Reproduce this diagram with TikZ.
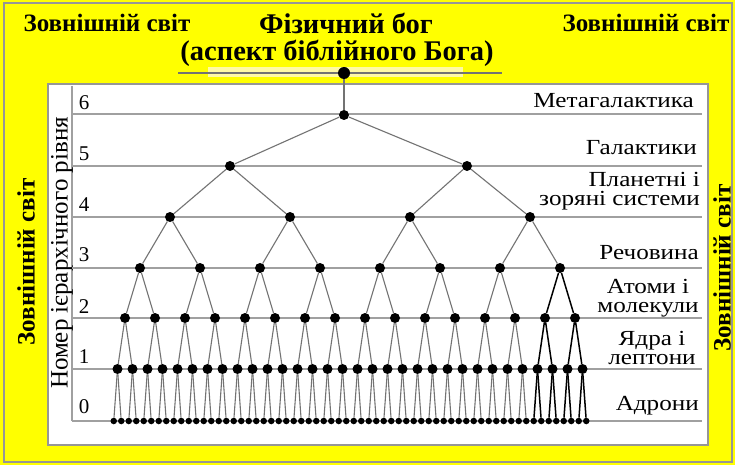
\documentclass[tikz,border=0pt]{standalone}
\usepackage{fontspec}
\setmainfont{Liberation Serif}
\newfontfamily\widef{Liberation Serif}[FakeStretch=1.17]
\definecolor{bgyellow}{RGB}{255,255,0}
\definecolor{framegray}{RGB}{150,150,150}
\definecolor{linegray}{RGB}{160,160,160}
\definecolor{edgegray}{RGB}{115,115,115}
\tikzset{
  dot/.style={circle,fill=black,inner sep=0pt,minimum size=10pt},
  leaf/.style={circle,fill=black,inner sep=0pt,minimum size=6.5pt},
  topdot/.style={circle,fill=black,inner sep=0pt,minimum size=12pt},
  edge/.style={draw=edgegray,line width=1.1pt},
  darkedge/.style={draw=black,line width=1.5pt},
  levline/.style={draw=linegray,line width=1.6pt},
  lvlnum/.style={font=\fontsize{21}{22}\selectfont,anchor=center},
  rlabel/.style={font=\widef\fontsize{21.5}{19.5}\selectfont,inner sep=0pt},
  outer/.style={font=\bfseries\fontsize{25}{27}\selectfont,inner sep=0pt},
  titlef/.style={font=\bfseries\fontsize{28.5}{30}\selectfont,inner sep=0pt},
}
\begin{document}
\begin{tikzpicture}[x=1pt,y=-1pt]
\useasboundingbox (0,0) rectangle (735,465);
\fill[bgyellow] (0,0) rectangle (735,465);
\draw[framegray,line width=1.5pt] (4,3) rectangle (732,462);
\draw[framegray,line width=1.5pt,fill=white] (48,84) rectangle (708,445);

% title and outer labels
\node[outer] (owl) at (107,23) {Зовнішній світ};
\node[outer] (owr) at (646,23) {Зовнішній світ};
\node[outer,rotate=90] (owv) at (26,262) {Зовнішній світ};
\node[outer,rotate=90] (owvr) at (722,268) {Зовнішній світ};
\node[titlef] (t1) at (346,23) {Фізичний бог};
\node[titlef] (t2) at (337,53) {(аспект біблійного Бога)};
\fill[yellow!35!white] (208,67) rectangle (463,77);
\draw[edgegray,line width=1.6pt] (178,73) -- (502,73);

% axis
\coordinate (axtop) at (72,86);
\coordinate (axbot) at (72,421);
\draw[levline] (axtop) -- (axbot);
\node[font=\fontsize{25}{27}\selectfont,rotate=90,inner sep=0pt] (axlab) at (62,253) {Номер ієрархічного рівня};

% level lines and numbers
\foreach \L/\y/\ny in {6/114/103,5/166/154,4/217/205,3/268/255,2/318/307,1/369/357,0/421/407}{
  \coordinate (ll\L) at (72,\y);
  \coordinate (lr\L) at (702,\y);
  \draw[levline] (ll\L) -- (lr\L);
  \node[lvlnum] (num\L) at (84,\ny) {\L};
}

% level names
\node[rlabel,anchor=east] (lab6) at (694,101) {Метагалактика};
\node[rlabel,anchor=east] (lab5) at (697,148) {Галактики};
\node[rlabel,anchor=east,align=right] (lab4) at (700,191) {Планетні і\\зоряні системи};
\node[rlabel,anchor=east] (lab3) at (699,253) {Речовина};
\node[rlabel,align=center] (lab2) at (648,298) {Атоми і\\молекули};
\node[rlabel,align=center] (lab1) at (652,348) {Ядра і\\лептони};
\node[rlabel,anchor=east] (lab0) at (699,406) {Адрони};

% tree nodes
\node[topdot] (top) at (344,73) {};
\node[dot] (n6-0) at (344,115) {};
\node[dot] (n5-0) at (230,166) {};
\node[dot] (n5-1) at (467,166) {};
\foreach \k in {0,...,3} \node[dot] (n4-\k) at ({170+120*\k},217) {};
\foreach \k in {0,...,7} \node[dot] (n3-\k) at ({140+60*\k},268) {};
\foreach \k in {0,...,15} \node[dot] (n2-\k) at ({125+30*\k},318) {};
\foreach \k in {0,...,31} \node[dot] (n1-\k) at ({117.5+15*\k},369) {};
\foreach \k in {0,...,63} \node[leaf] (n0-\k) at ({113.75+7.5*\k},421) {};

% edges
\draw[edge] (top) -- (n6-0);
\draw[edge] (n6-0) -- (n5-0);
\draw[edge] (n6-0) -- (n5-1);
\foreach \L/\P/\n/\th in {5/4/1/99,4/3/3/99,3/2/7/7,2/1/15/14,1/0/31/28}{
  \foreach \k in {0,...,\n}{
    \pgfmathtruncatemacro{\a}{2*\k}
    \pgfmathtruncatemacro{\b}{2*\k+1}
    \ifnum\k<\th
      \draw[edge] (n\L-\k) -- (n\P-\a);
      \draw[edge] (n\L-\k) -- (n\P-\b);
    \else
      \draw[darkedge] (n\L-\k) -- (n\P-\a);
      \draw[darkedge] (n\L-\k) -- (n\P-\b);
    \fi
  }
}
\end{tikzpicture}
\end{document}
